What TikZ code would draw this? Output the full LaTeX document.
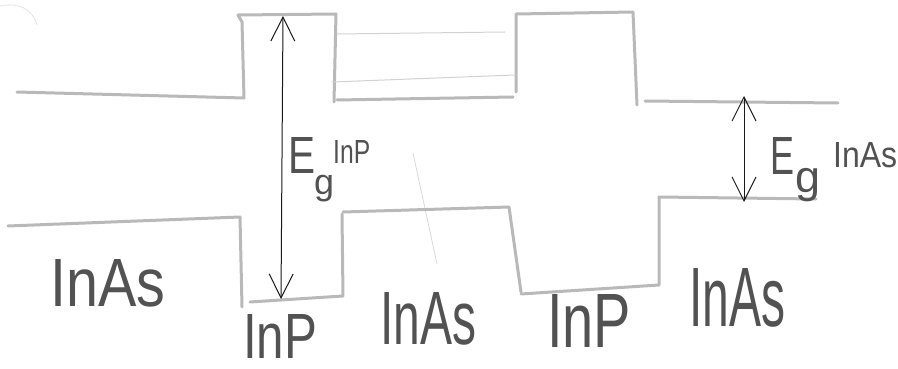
\documentclass[tikz,border=0pt]{standalone}
\usepackage{fontspec}
\setmainfont{Liberation Sans}
\usetikzlibrary{arrows.meta}
\tikzset{
  band/.style={draw=gray!55, line width=3pt, line join=round, line cap=round},
  faint/.style={draw=gray!35, line width=1pt, line cap=round},
  gaparrow/.style={draw=black!90, line width=1pt,
    {Straight Barb[length=24pt,width=24pt]}-{Straight Barb[length=24pt,width=24pt]}},
  hand/.style={inner sep=0pt, anchor=base west, text=black!68}
}
\begin{document}
\begin{tikzpicture}[x=1pt,y=-1pt]
\fill[white] (0,0) rectangle (898,369);
\useasboundingbox (0,0) rectangle (898,369);

% stray pencil marks
\draw[draw=gray!25, line width=0.6pt] (0,6) .. controls (20,2) and (33,10) .. (37,25);
\draw[draw=gray!30, line width=0.8pt] (413,153) -- (437,264);

% conduction band
\draw[band] (17,92) -- (244,98) -- (242,22) -- (238,15) -- (336,14) -- (334,102);
\draw[band] (337,100) -- (513,97);
\draw[band] (516,92) -- (516,14) -- (633,12) -- (637,105);
\draw[band] (645,101) -- (838,103);

% confined levels in the well
\draw[faint] (337,34) -- (505,32);
\draw[faint] (332,82) -- (515,75);

% valence band
\draw[band] (8,226) -- (240,217) -- (242,307);
\draw[band] (250,302) -- (343,296) -- (342,214);
\draw[band] (343,212) -- (509,207) -- (521,292);
\draw[band] (521,294) -- (659,285) -- (659,197) -- (816,199);

% band-gap arrows
\coordinate (gPtop) at (283,16);
\coordinate (gPbot) at (281,299);
\coordinate (gAtop) at (744,96);
\coordinate (gAbot) at (744,202);
\draw[gaparrow] (gPbot) -- (gPtop);
\draw[gaparrow] (gAbot) -- (gAtop);

% gap labels
\node[hand] (EP) at (288,173) {\resizebox{27pt}{36pt}{E}};
\node[hand] (gP) at (314,194) {\resizebox{20pt}{!}{g}};
\node[hand] (sP) at (333,163) {\resizebox{37pt}{23pt}{InP}};
\node[hand] (EA) at (770,175) {\resizebox{24pt}{37pt}{E}};
\node[hand] (gA) at (795,193) {\resizebox{25pt}{!}{g}};
\node[hand] (sA) at (833,167) {\resizebox{64pt}{25pt}{InAs}};

% material labels
\node[hand] (m1) at (50,306) {\resizebox{115pt}{47pt}{InAs}};
\node[hand] (m2) at (243,358) {\resizebox{74pt}{44pt}{InP}};
\node[hand] (m3) at (380,344) {\resizebox{96pt}{52pt}{InAs}};
\node[hand] (m4) at (547,347) {\resizebox{84pt}{53pt}{InP}};
\node[hand] (m5) at (689,326) {\resizebox{96pt}{58pt}{InAs}};
\end{tikzpicture}
\end{document}
